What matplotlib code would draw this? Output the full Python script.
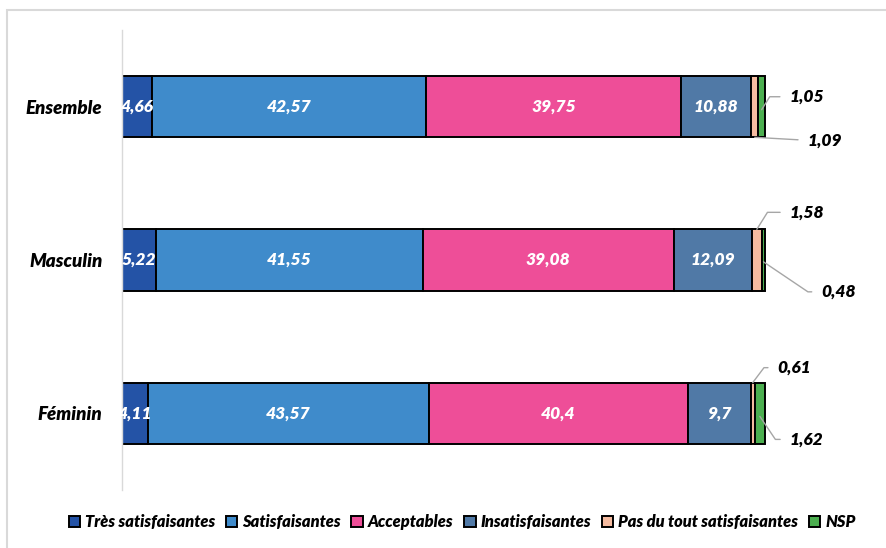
import matplotlib
matplotlib.use("Agg")
import matplotlib.pyplot as plt
from matplotlib.patches import Rectangle
import numpy as np

categories = ["Ensemble", "Masculin", "Féminin"]
series = ["Très satisfaisantes", "Satisfaisantes", "Acceptables",
          "Insatisfaisantes", "Pas du tout satisfaisantes", "NSP"]
tres_satisf = [4.66, 5.22, 4.11]
satisf = [42.57, 41.55, 43.57]
acceptables = [39.75, 39.08, 40.4]
insatisf = [10.88, 12.09, 9.7]
pas_du_tout = [1.09, 1.58, 0.61]
nsp = [1.05, 0.48, 1.62]
colors = ["#2453A6", "#3F8BCB", "#EE4E98", "#5079A6", "#F5BBA0", "#4CAF50"]

values = [tres_satisf, satisf, acceptables, insatisf, pas_du_tout, nsp]

FONT = "Lato"
W = 800
plt.rcParams['font.family'] = [FONT, 'DejaVu Sans']

fig = plt.figure(figsize=(8.87, 5.48), dpi=100)
ax = fig.add_axes([122/887, 1-490/548, (870-122)/887, (490-30)/548])

y = np.arange(len(categories))
left = np.zeros(len(categories))
bh = 0.4
for i, (name, vals, c) in enumerate(zip(series, values, colors)):
    vals = np.array(vals)
    ax.barh(y, vals, left=left, height=bh, color=c, edgecolor="black",
            linewidth=1.4, label=name)
    if i < 4:
        for j in range(len(categories)):
            ax.text(left[j] + vals[j]/2, y[j], f"{vals[j]:g}".replace(".", ","),
                    ha="center", va="center", color="white",
                    fontsize=12.5, fontweight=W, fontstyle="italic")
    left = left + vals

# outside labels with leader lines: (series idx, cat idx, y-anchor frac, dx, dy(up), angleB)
cum = np.cumsum(np.array(values), axis=0)
outside = [
    (5, 0, 0.05, 28, 13, 58),
    (4, 0, 0.5, 53, -3, None),
    (4, 1, -0.5, 33, 17, 58),
    (5, 1, 0.03, 58, -30, -34),
    (4, 2, -0.5, 25, 15, 53),
    (5, 2, 0.05, 30, -23, -56),
]
for si, ci, yf, dx, dy, ang in outside:
    v = values[si][ci]
    xc = cum[si][ci] - v/2
    yc = y[ci] + yf*bh
    if ang is None:
        cs = "arc3"
    else:
        cs = f"angle,angleA=0,angleB={ang},rad=0"
    ax.annotate(f"{v:g}".replace(".", ","), xy=(xc, yc), xycoords="data",
                xytext=(dx, dy), textcoords="offset pixels",
                ha="left", va="center", fontsize=12.5, fontweight=W,
                fontstyle="italic", color="black",
                arrowprops=dict(arrowstyle="-", color="#A6A6A6", lw=1,
                                connectionstyle=cs, relpos=(0, 0.5),
                                shrinkA=5, shrinkB=0))

ax.set_xlim(0, (870-122)/6.43)
ax.set_ylim(2.5, -0.5)
ax.set_yticks(y)
ax.set_yticklabels(categories, fontsize=13.5, fontweight=W, fontstyle="italic")
ax.tick_params(axis="y", length=0, pad=14)
ax.set_xticks([])
for s in ["top", "right", "bottom"]:
    ax.spines[s].set_visible(False)
ax.spines["left"].set_color("#D9D9D9")
ax.spines["left"].set_linewidth(1)

leg = fig.legend(loc="center", bbox_to_anchor=(462/887, 1-522/548), ncol=6,
                 frameon=False, handlelength=0.7, handleheight=0.7,
                 handletextpad=0.3, columnspacing=0.65,
                 prop=dict(family=FONT, weight=W, style="italic", size=11.8))

fig.patches.append(Rectangle((7/887, -0.2), 1.2, 0.2 + 1-10/548,
                             transform=fig.transFigure, fill=False,
                             edgecolor="#D9D9D9", lw=1.5))

fig.savefig("out.png", dpi=100)
